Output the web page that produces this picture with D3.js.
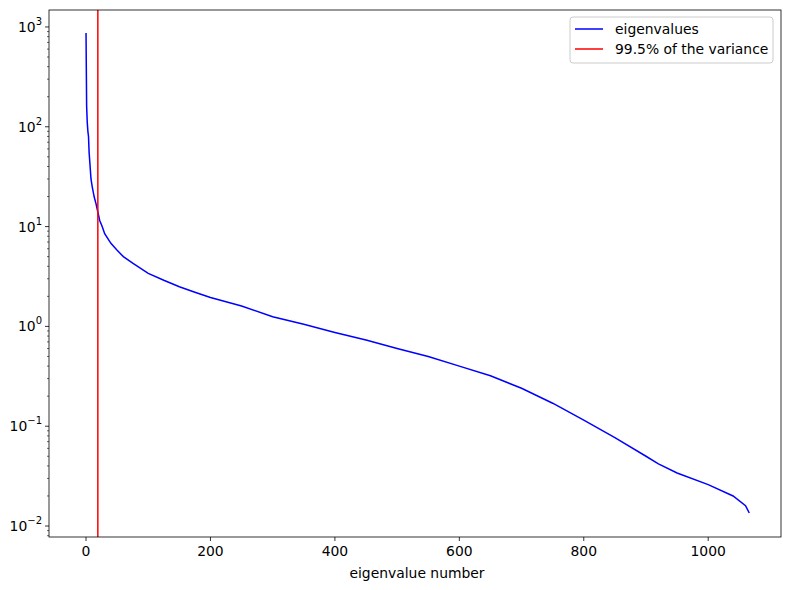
<!DOCTYPE html>
<html><head><meta charset="utf-8">
<script src="https://cdn.jsdelivr.net/npm/d3@7"></script>
<style>body{margin:0;background:#fff}text{font-family:"DejaVu Sans",sans-serif}</style>
</head><body><svg id="c" width="790" height="590"></svg>
<script>
const idx = [0,1,2,3,4,5,6,8,10,13,16,19,22,26,30,40,50,60,75,100,125,150,175,200,250,300,350,400,450,500,550,600,650,700,750,800,850,900,920,950,1000,1040,1060,1066];
const vals = [870,160,110,90,80,55,45,30,25,20,17,14,11.5,10,8.5,6.8,5.8,5.0,4.3,3.4,2.9,2.5,2.2,1.95,1.6,1.25,1.05,0.87,0.73,0.6,0.5,0.4,0.32,0.24,0.17,0.115,0.077,0.05,0.042,0.034,0.026,0.02,0.016,0.0135];
const cutoff = 19;
const xTicks = [0,200,400,600,800,1000];
const yExp = [-2,-1,0,1,2,3];
const labels = ["eigenvalues","99.5% of the variance"];

const svg = d3.select("#c");
const L=49,R=781,T=10,B=537;
const FS=13.9;
const x = d3.scaleLinear().domain([-59.5,1117]).range([L,R]);
const y = d3.scaleLog().domain([Math.pow(10,-2.11),Math.pow(10,3.17)]).range([B,T]);
const g = svg.append("g");
g.append("defs").append("clipPath").attr("id","cp").append("rect").attr("x",L).attr("y",T).attr("width",R-L).attr("height",B-T);
const pts = idx.map((d,i)=>[d,vals[i]]);
g.append("path").attr("clip-path","url(#cp)").datum(pts).attr("fill","none").attr("stroke","#0000ff").attr("stroke-width",1.5)
 .attr("d",d3.line().x(d=>x(d[0])).y(d=>y(d[1])));
g.append("line").attr("x1",x(cutoff)).attr("x2",x(cutoff)).attr("y1",T).attr("y2",B).attr("stroke","#ff0000").attr("stroke-width",1.5);
g.append("rect").attr("x",L).attr("y",T).attr("width",R-L).attr("height",B-T).attr("fill","none").attr("stroke","#000").attr("stroke-width",0.8);
xTicks.forEach(t=>{
  g.append("line").attr("x1",x(t)).attr("x2",x(t)).attr("y1",B).attr("y2",B+4).attr("stroke","#000").attr("stroke-width",0.8);
  g.append("text").attr("x",x(t)).attr("y",B+19).attr("text-anchor","middle").attr("font-size",FS).text(t);
});
g.append("text").attr("x",(L+R)/2+2).attr("y",B+41).attr("text-anchor","middle").attr("font-size",FS).text("eigenvalue number");
yExp.forEach(e=>{
  const yy=y(Math.pow(10,e));
  g.append("line").attr("x1",L-4).attr("x2",L).attr("y1",yy).attr("y2",yy).attr("stroke","#000").attr("stroke-width",0.8);
  const t=g.append("text").attr("x",L-7).attr("y",yy+5).attr("text-anchor","end").attr("font-size",FS);
  t.append("tspan").text("10");
  t.append("tspan").attr("dy",-7).attr("font-size",10).text(e<0?"\u2212"+(-e):e);
  for(let m=2;m<=9;m++){
    const ym=y(m*Math.pow(10,e));
    if(ym>=T&&ym<=B) g.append("line").attr("x1",L-2).attr("x2",L).attr("y1",ym).attr("y2",ym).attr("stroke","#000").attr("stroke-width",0.6);
  }
});
for(let m=2;m<=9;m++){const ym=y(m*0.001); if(ym>=T&&ym<=B) g.append("line").attr("x1",L-2).attr("x2",L).attr("y1",ym).attr("y2",ym).attr("stroke","#000").attr("stroke-width",0.6);}
const lg=g.append("g");
lg.append("rect").attr("x",570).attr("y",17).attr("width",203).attr("height",46).attr("rx",3).attr("fill","#fff").attr("stroke","#ccc");
[["#0000ff",0],["#ff0000",1]].forEach(([c,i])=>{
  const yy=29+i*20;
  lg.append("line").attr("x1",575).attr("x2",603).attr("y1",yy).attr("y2",yy).attr("stroke",c).attr("stroke-width",1.5);
  lg.append("text").attr("x",615).attr("y",yy+5).attr("font-size",FS).text(labels[i]);
});
</script></body></html>
